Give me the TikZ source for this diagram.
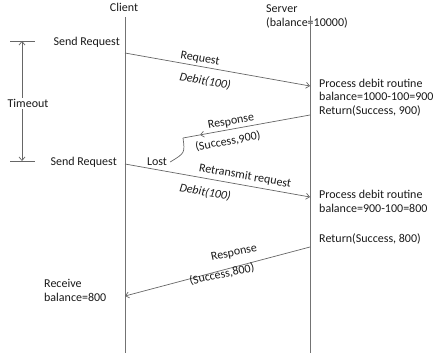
\documentclass[tikz,border=0pt]{standalone}
\usepackage{fontspec}
\setmainfont{Carlito}
\usetikzlibrary{arrows.meta}
\begin{document}
\begin{tikzpicture}[x=1pt,y=-1pt,
  lbl/.style={inner sep=0pt, text height=8.5pt, text depth=2.5pt, font=\fontsize{12}{13}\selectfont, text=black!90},
  msg/.style={lbl, font=\fontsize{12}{13}\selectfont\itshape},
  life/.style={draw=black!55, line width=0.7pt},
  arr/.style={draw=black!60, line width=0.7pt, -{Straight Barb[length=3.5pt,width=6pt]}},
  plain/.style={draw=black!60, line width=0.7pt}]
\useasboundingbox (0,0) rectangle (437,353);
% headers
\node[lbl] (client) at (124,9) {Client};
\node[lbl, anchor=west] (server) at (266,10) {Server};
\node[lbl, anchor=west] (bal) at (266,24) {(balance=10000)};
% lifelines
\coordinate (cTop) at (125,17); \coordinate (cBot) at (125,353);
\coordinate (sTop) at (310,16); \coordinate (sBot) at (310,353);
\draw[life] (cTop) -- (cBot);
\draw[life] (sTop) -- (sBot);
% timeout
\coordinate (t1a) at (10,41); \coordinate (t1b) at (35,41);
\coordinate (t2a) at (10,161); \coordinate (t2b) at (35,161);
\coordinate (tTop) at (22,41); \coordinate (tBot) at (22,161);
\draw[plain] (t1a) -- (t1b);
\draw[plain] (t2a) -- (t2b);
\draw[plain, {Straight Barb[length=3.5pt,width=6pt]}-{Straight Barb[length=3.5pt,width=6pt]}] (tTop) -- (tBot);
\node[lbl, fill=white, inner xsep=1pt] (timeout) at (28,104) {Timeout};
% left texts
\node[lbl, anchor=east] (sr1) at (120,43) {Send Request};
\node[lbl, anchor=east] (sr2) at (117,162) {Send Request};
\node[lbl, anchor=west] (rcv1) at (44,284) {Receive};
\node[lbl, anchor=west] (rcv2) at (44,298) {balance=800};
% right texts
\node[lbl, anchor=west] (p1a) at (319,85) {Process debit routine};
\node[lbl, anchor=west] (p1b) at (319,98) {balance=1000-100=900};
\node[lbl, anchor=west] (p1c) at (319,111) {Return(Success, 900)};
\node[lbl, anchor=west] (p2a) at (319,195) {Process debit routine};
\node[lbl, anchor=west] (p2b) at (319,209) {balance=900-100=800};
\node[lbl, anchor=west] (p2c) at (319,239) {Return(Success, 800)};
% message 1
\coordinate (a1s) at (125,53); \coordinate (a1e) at (310,86);
\draw[arr] (a1s) -- (a1e);
\node[lbl, rotate=-10] (m1a) at (200,59) {Request};
\node[msg, rotate=-10] (m1b) at (205,82) {Debit(100)};
% response 1 (lost)
\coordinate (r1s) at (310,115); \coordinate (r1m) at (200,134.9); \coordinate (r1e) at (183,138);
\draw[arr] (r1s) -- (r1m);
\draw[plain] (r1m) -- (r1e);
\node[lbl, rotate=10] (m2a) at (231,122) {Response};
\node[lbl, rotate=10] (m2b) at (228,142) {(Success,900)};
\node[lbl] (lost) at (157,162) {Lost};
\draw[plain] (r1e) .. controls (185,153) .. ([xshift=3pt]lost.east);
% message 2
\coordinate (a2s) at (125,164); \coordinate (a2e) at (310,197);
\draw[arr] (a2s) -- (a2e);
\node[lbl, rotate=-10] (m3a) at (245,176.5) {Retransmit request};
\node[msg, rotate=-10] (m3b) at (205,193) {Debit(100)};
% response 2
\coordinate (r2s) at (310,247); \coordinate (r2e) at (125,296);
\draw[arr] (r2s) -- (r2e);
\node[lbl, rotate=12] (m4a) at (234,253) {Response};
\node[lbl, rotate=12] (m4b) at (222,275) {(Success,800)};
\end{tikzpicture}
\end{document}
